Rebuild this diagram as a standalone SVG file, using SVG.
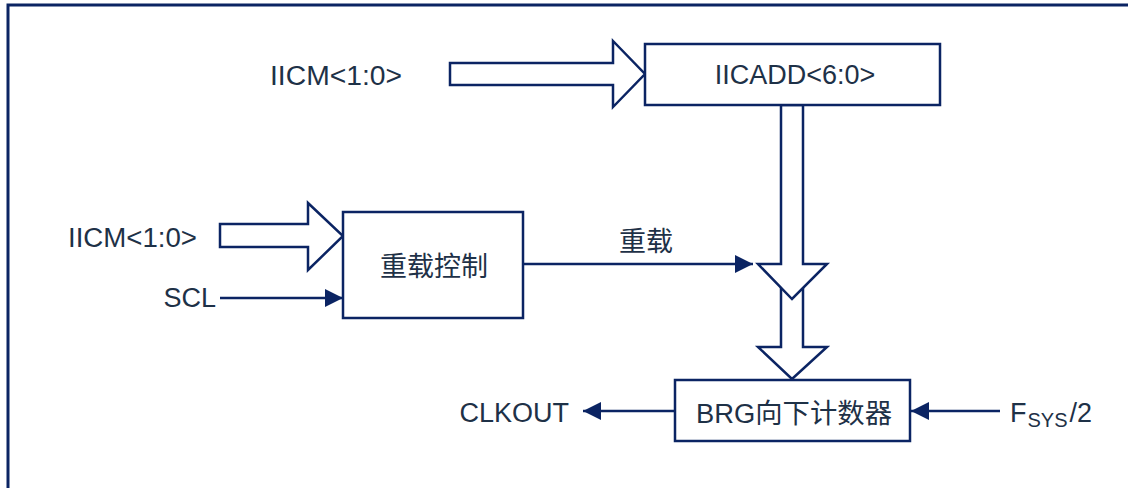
<svg xmlns="http://www.w3.org/2000/svg" width="1128" height="488" viewBox="0 0 1128 488">
<style>
.frame{fill:none;stroke:#0B2463;stroke-width:3}
.box{fill:#fff;stroke:#0B2463;stroke-width:2.5}
.hollow{fill:#fff;stroke:#0B2463;stroke-width:2.5;stroke-linejoin:miter}
.wire{fill:none;stroke:#0B2463;stroke-width:2.5}
text{font-family:"Liberation Sans","Noto Sans CJK SC",sans-serif;font-size:27px;fill:#1E3147}
.sub{font-size:20px}
</style>
<defs>
<marker id="ah" markerUnits="userSpaceOnUse" markerWidth="18" markerHeight="18" refX="18" refY="9" orient="auto">
<path d="M0,0 L18,9 L0,18 z" fill="#0B2463"/>
</marker>
</defs>
<rect width="1128" height="488" fill="#fff"/>
<path class="frame" d="M8,488 L8,5 L1128,5"/>

<g id="connectors">
<polygon id="bus-iicm-top" class="hollow" points="450,63 613,63 613,41 645,74 613,107 613,85 450,85"/>
<polygon id="bus-iicm-mid" class="hollow" points="220,224 308,224 308,203 343,236 308,270 308,247 220,247"/>
<polygon id="bus-down-lower" class="hollow" points="781,276 803,276 803,347 827,347 792,379 758,347 781,347"/>
<polygon id="bus-down-upper" class="hollow" points="781,105 803,105 803,264 827,264 792,299 758,264 781,264"/>
<line id="scl" class="wire" x1="220" y1="298" x2="343" y2="298" marker-end="url(#ah)"/>
<line id="reload" class="wire" x1="523" y1="264" x2="753" y2="264" marker-end="url(#ah)"/>
<line id="clkout" class="wire" x1="675" y1="411" x2="583" y2="411" marker-end="url(#ah)"/>
<line id="fsys" class="wire" x1="1000" y1="411" x2="911" y2="411" marker-end="url(#ah)"/>
<text x="646" y="251" text-anchor="middle">重载</text>
</g>

<g id="iicadd">
<rect class="box" x="645" y="44" width="295" height="61"/>
<text x="795" y="84" text-anchor="middle">IICADD&lt;6:0&gt;</text>
</g>
<g id="reload-ctrl">
<rect class="box" x="343" y="212" width="180" height="106"/>
<text x="434" y="276" text-anchor="middle">重载控制</text>
</g>
<g id="brg">
<rect class="box" x="675" y="380" width="235" height="61"/>
<text x="696" y="423" textLength="196" lengthAdjust="spacingAndGlyphs">BRG向下计数器</text>
</g>
<g id="labels">
<text x="270" y="85" textLength="132" lengthAdjust="spacingAndGlyphs">IICM&lt;1:0&gt;</text>
<text x="68" y="247" textLength="129" lengthAdjust="spacingAndGlyphs">IICM&lt;1:0&gt;</text>
<text x="216" y="307" text-anchor="end">SCL</text>
<text x="569" y="422" text-anchor="end">CLKOUT</text>
<text x="1010" y="422" font-size="29">F<tspan class="sub" dy="5" dx="1">SYS</tspan><tspan dy="-5" dx="2">/2</tspan></text>
</g>
</svg>
